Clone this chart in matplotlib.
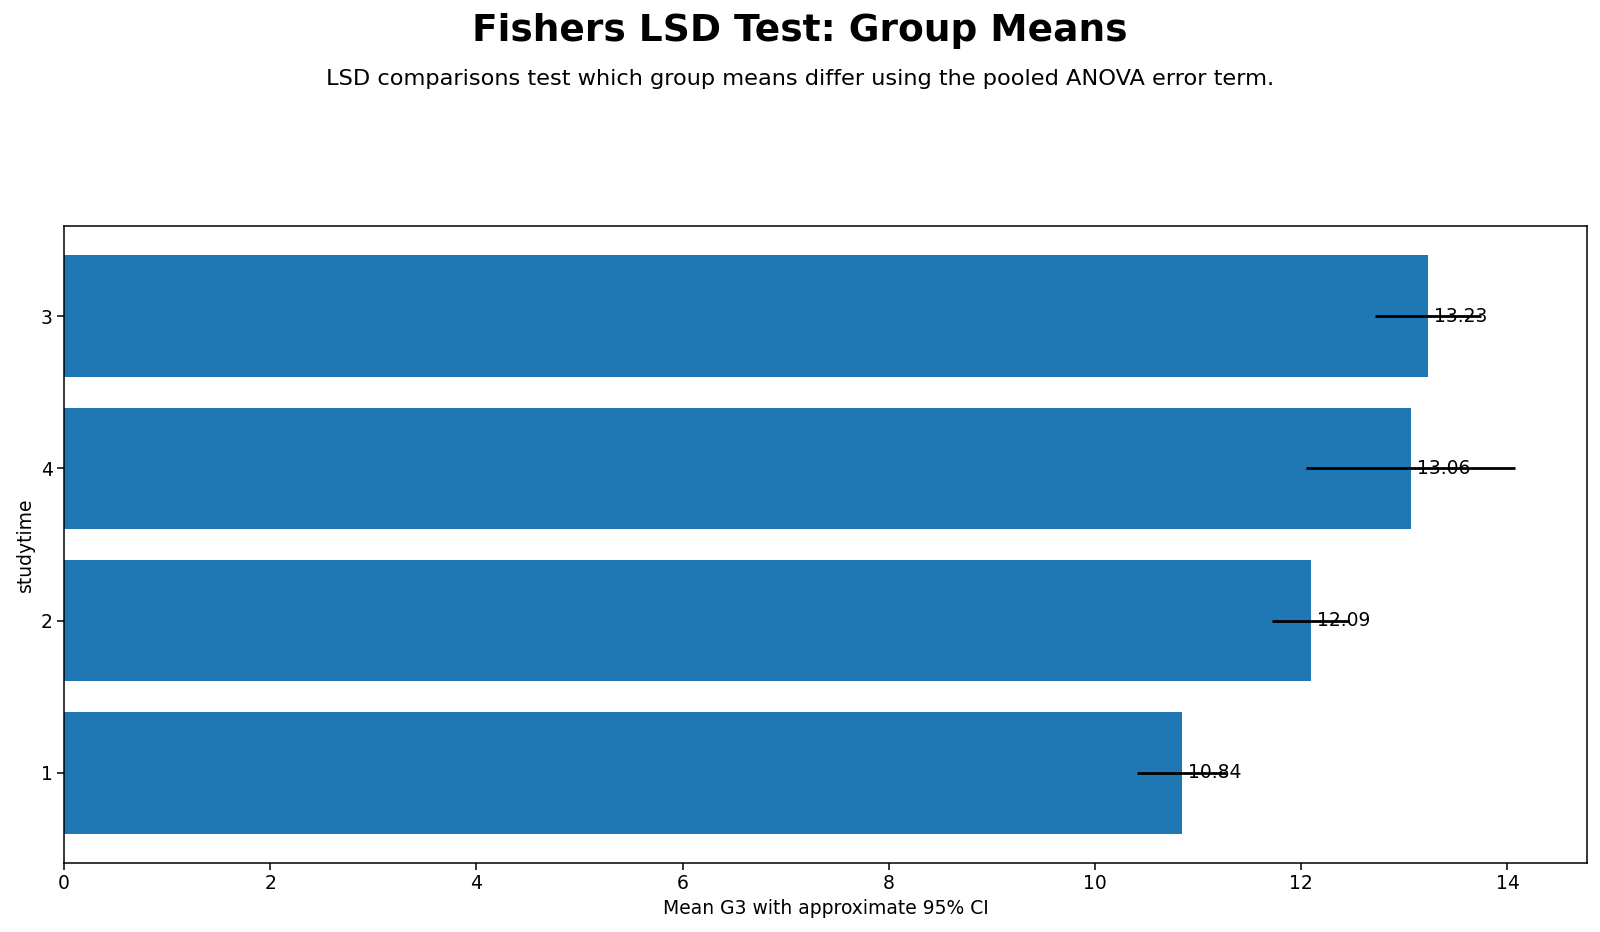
import numpy as np
import matplotlib
matplotlib.use("Agg")
import matplotlib.pyplot as plt

# group levels, ordered as drawn (bottom to top)
groups = ["1", "2", "4", "3"]
means = [10.84, 12.09, 13.06, 13.23]
ci_half = [0.43, 0.37, 1.01, 0.51]

fig = plt.figure(figsize=(16, 9.32), dpi=100)
ax = fig.add_axes((0.040, 0.0745, 0.952, 0.6825))

ypos = np.arange(len(groups))
ax.barh(ypos, means, color="#1f77b4")
ax.errorbar(means, ypos, xerr=ci_half, fmt="none", ecolor="black", elinewidth=2)
for y, m in zip(ypos, means):
    ax.text(m + 0.06, y, "%.2f" % m, va="center", ha="left", fontsize=13.5)

ax.set_yticks(ypos)
ax.set_yticklabels(groups)
ax.tick_params(labelsize=13.5, length=4.7, width=1.1)
for s in ax.spines.values():
    s.set_linewidth(1.1)
ax.set_xlabel("Mean G3 with approximate 95% CI", fontsize=13.5)
ax.set_ylabel("studytime", fontsize=13.5)

fig.text(0.5, 0.967, "Fishers LSD Test: Group Means", ha="center", va="center",
         fontsize=27, fontweight="bold")
fig.text(0.5, 0.915, "LSD comparisons test which group means differ using the pooled ANOVA error term.",
         ha="center", va="center", fontsize=16.2)

plt.savefig("out.png", dpi=100)
